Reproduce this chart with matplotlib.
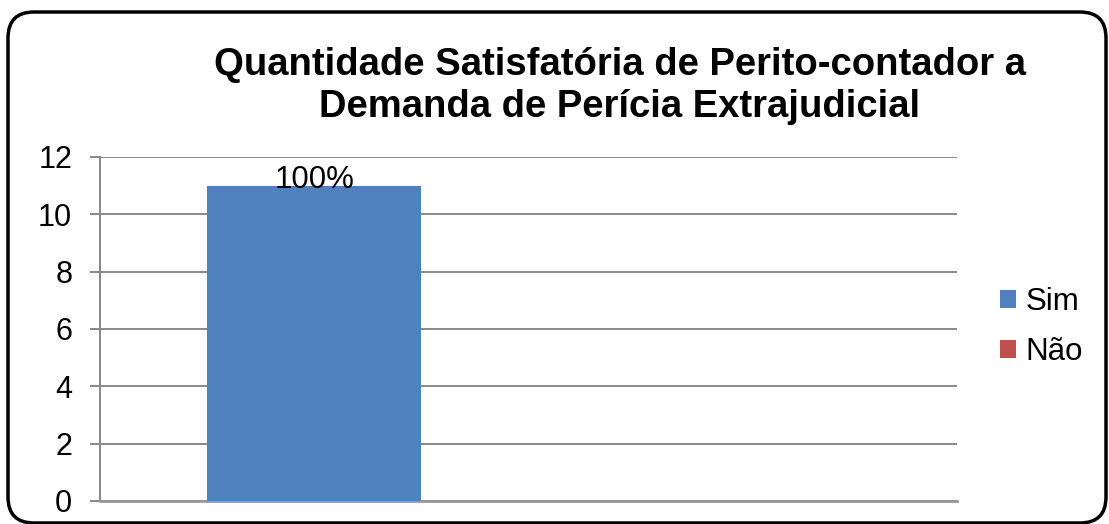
import matplotlib
matplotlib.use("Agg")
import matplotlib.pyplot as plt
from matplotlib.patches import FancyBboxPatch
from matplotlib.transforms import IdentityTransform

plt.rcParams['font.family'] = ['Liberation Sans', 'DejaVu Sans']

# dados do gráfico
categorias = ['Sim', 'Não']
quantidades = [11, 0]
cores = ['#4F81BD', '#C0504D']
titulo = 'Quantidade Satisfatória de Perito-contador a\nDemanda de Perícia Extrajudicial'

W, H = 1109, 524
fig = plt.figure(figsize=(W / 100, H / 100), dpi=100)
ax = fig.add_axes([100 / W, 1 - 501 / H, 857 / W, 344 / H])

posicoes = list(range(len(categorias)))
barras = ax.bar(posicoes, quantidades, width=0.5, color=cores, zorder=3)

ax.set_xlim(-0.5, len(categorias) - 0.5)
ax.set_ylim(0, 12)
ax.set_yticks(range(0, 13, 2))
ax.set_xticks([])

ax.yaxis.grid(True, color='#888888', linewidth=1.4, zorder=0)
for lado in ['top', 'right']:
    ax.spines[lado].set_visible(False)
ax.spines['left'].set_color('#888888')
ax.spines['left'].set_linewidth(1.4)
ax.spines['bottom'].set_color('#999999')
ax.spines['bottom'].set_linewidth(2)
ax.tick_params(axis='y', length=7, width=1.4, color='#888888', pad=13, labelsize=22)

# rótulo percentual
total = sum(quantidades)
for b, q in zip(barras, quantidades):
    if q > 0:
        ax.annotate(f'{q / total * 100:.0f}%', (b.get_x() + b.get_width() / 2, q),
                    xytext=(0, -2), textcoords='offset points',
                    ha='center', va='baseline', fontsize=22.5)

fig.text(620 / W, 1 - 47 / H, titulo, ha='center', va='top',
         fontsize=27.5, fontweight='bold', linespacing=1.22)

fig.legend(barras, categorias, loc='center left', bbox_to_anchor=(984 / W, 1 - 327 / H),
           frameon=False, fontsize=22.5, handlelength=0.52, handleheight=0.52,
           handletextpad=0.3, labelspacing=0.62, borderpad=0)

# moldura arredondada
moldura = FancyBboxPatch((8, H - 523), 1098, 511, boxstyle='round,pad=0,rounding_size=26',
                         transform=IdentityTransform(), fill=False, edgecolor='black',
                         linewidth=2.5)
fig.patches.append(moldura)

fig.savefig('out.png', dpi=100)
